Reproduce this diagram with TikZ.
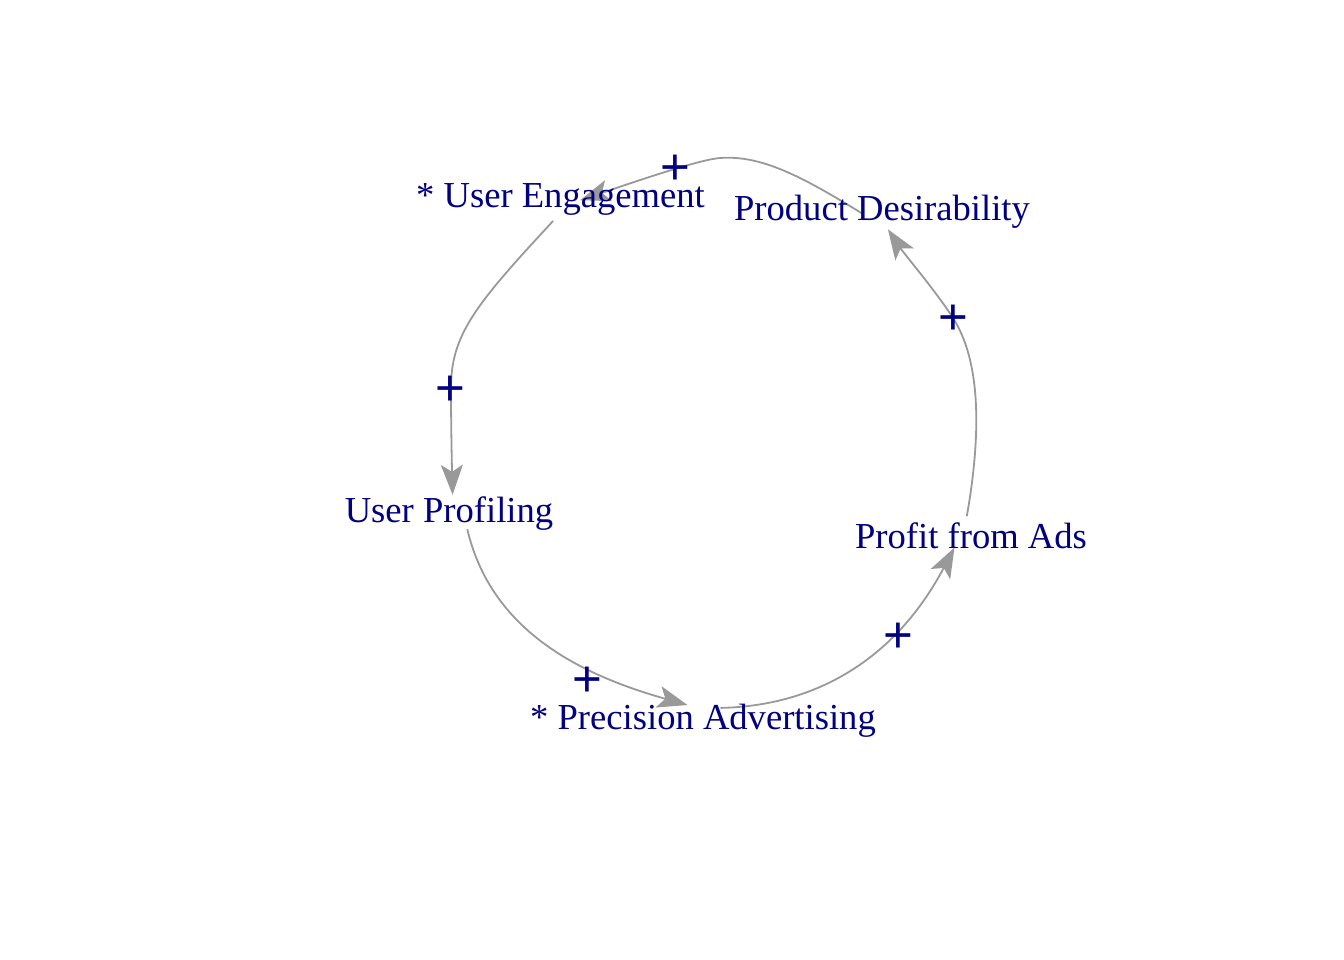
\documentclass[tikz,border=0pt]{standalone}
\usepackage{fontspec}
\setmainfont{Liberation Serif}
\newfontfamily\plusfont{Liberation Sans}
\usetikzlibrary{arrows.meta}
\definecolor{navytext}{RGB}{0,0,128}
\definecolor{conngray}{RGB}{153,153,153}
\begin{document}
\begin{tikzpicture}[x=1pt,y=-1pt,
  vtx/.style={circle,minimum size=40pt,inner sep=0pt},
  lbl/.style={anchor=base,text=navytext,inner sep=0pt,font=\fontsize{36.6}{40}\selectfont},
  conn/.style={draw=conngray,line width=1.8pt,-{Stealth[length=30pt,width=22pt,inset=7pt]}},
  plussign/.style={text=navytext,inner sep=0pt,font=\plusfont\fontsize{51}{51}\selectfont,yshift=-3pt}]
\useasboundingbox (0,0) rectangle (1344,960);
% vertices
\node[vtx] (ue)  at (560,202) {};
\node[vtx] (pd)  at (882,210) {};
\node[vtx] (up)  at (453,515) {};
\node[vtx] (pfa) at (971,536) {};
\node[vtx] (pa)  at (703,718) {};
% connectors
\draw[conn] (ue.250) .. controls (475,305) and (451,335) .. (451,388)
  .. controls (451,430) and (452,470) .. (up);
\draw[conn] (up.-45) .. controls (490,625) and (570,672) .. (pa.140);
\draw[conn] (pa.30) .. controls (815,706) and (895,660) .. (pfa.215);
\draw[conn] (pfa.102) .. controls (982,430) and (980,360) .. (953,318)
  .. controls (935,290) and (905,255) .. (pd.-73);
\draw[conn] (pd.190) .. controls (800,175) and (760,155) .. (720,158)
  .. controls (700,159.5) and (640,180) .. (ue.5);
% labels
\node[lbl] (uet)  at (560.5,208) {* User Engagement};
\node[lbl] (pdt)  at (882,221) {Product Desirability};
\node[lbl] (upt)  at (449,522) {User Profiling};
\node[lbl] (pfat) at (971,548) {Profit from Ads};
\node[lbl] (pat)  at (703,729) {* Precision Advertising};
% polarity signs
\node[plussign] (s1) at (450,388) {+};
\node[plussign] (s2) at (587,679) {+};
\node[plussign] (s3) at (898,635) {+};
\node[plussign] (s4) at (953,317) {+};
\node[plussign] (s5) at (675,167) {+};
\end{tikzpicture}
\end{document}
